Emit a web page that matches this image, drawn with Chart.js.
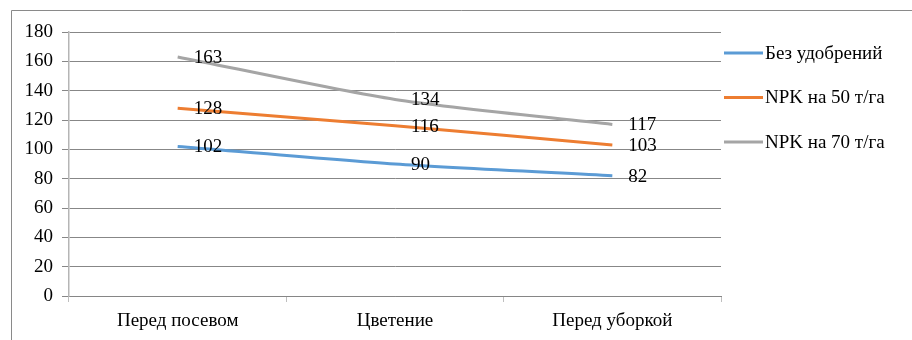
<!DOCTYPE html>
<html>
<head>
<meta charset="utf-8">
<script src="https://cdn.jsdelivr.net/npm/chart.js@4"></script>
<style>
  html, body { margin: 0; padding: 0; background: #ffffff; }
  #wrap { width: 912px; height: 340px; position: relative; }
  #probe { position: absolute; left: -9999px; top: 0; font-family: 'Liberation Serif'; font-size: 19px; }
</style>
</head>
<body>
<div id="probe">Перед посевом 0123456789 NPK т/га</div>
<div id="wrap"><canvas id="c" width="912" height="340"></canvas></div>
<script>
// Стадии развития
const categories = ['Перед посевом', 'Цветение', 'Перед уборкой'];

// Значения по вариантам опыта
const bezUdobreniy = [102, 90, 82];
const npk50 = [128, 116, 103];
const npk70 = [163, 134, 117];

const seriesNames = ['Без удобрений', 'NPK на 50 т/га', 'NPK на 70 т/га'];
const seriesColors = ['#5B9BD5', '#ED7D31', '#A5A5A5'];

// Деления оси Y
const yMin = 0;
const yMax = 180;
const yStep = 20;

const FONT = '"Liberation Serif", serif';

// Рамка вокруг области диаграммы (левая и верхняя стороны)
const frame = {
  id: 'frame',
  beforeDraw(chart) {
    const ctx = chart.ctx;
    ctx.save();
    ctx.fillStyle = '#ffffff';
    ctx.fillRect(0, 0, chart.width, chart.height);
    ctx.strokeStyle = '#8a8a8a';
    ctx.lineWidth = 1;
    ctx.beginPath();
    ctx.moveTo(11.5, chart.height);
    ctx.lineTo(11.5, 10.5);
    ctx.lineTo(chart.width, 10.5);
    ctx.stroke();
    ctx.restore();
  }
};

// Подписи значений справа от точек
const valueLabels = {
  id: 'valueLabels',
  afterDatasetsDraw(chart) {
    const ctx = chart.ctx;
    ctx.save();
    ctx.font = '19px ' + FONT;
    ctx.fillStyle = '#000000';
    ctx.textAlign = 'left';
    ctx.textBaseline = 'middle';
    chart.data.datasets.forEach((ds, i) => {
      const meta = chart.getDatasetMeta(i);
      meta.data.forEach((pt, j) => {
        ctx.fillText(String(ds.data[j]), pt.x + 16, pt.y + 1);
      });
    });
    ctx.restore();
  }
};

// Легенда справа
const sideLegend = {
  id: 'sideLegend',
  afterDraw(chart) {
    const ctx = chart.ctx;
    ctx.save();
    ctx.font = '19px ' + FONT;
    ctx.textAlign = 'left';
    ctx.textBaseline = 'middle';
    chart.data.datasets.forEach((ds, i) => {
      const y = 53 + i * 44.5;
      ctx.strokeStyle = ds.borderColor;
      ctx.lineWidth = 3;
      ctx.beginPath();
      ctx.moveTo(724, y);
      ctx.lineTo(763, y);
      ctx.stroke();
      ctx.fillStyle = '#000000';
      ctx.fillText(ds.label, 765, y + 1);
    });
    ctx.restore();
  }
};

const seriesData = [bezUdobreniy, npk50, npk70];

function draw() {
  new Chart(document.getElementById('c'), {
    type: 'line',
    data: {
      labels: categories,
      datasets: seriesData.map((d, i) => ({
        label: seriesNames[i],
        data: d,
        borderColor: seriesColors[i],
        backgroundColor: seriesColors[i],
        borderWidth: 3,
        pointRadius: 0,
        tension: 0.25,
        fill: false
      }))
    },
    options: {
      responsive: false,
      animation: false,
      layout: { padding: { left: 0, top: 32, right: 191, bottom: 0 } },
      plugins: {
        legend: { display: false },
        tooltip: { enabled: false }
      },
      scales: {
        x: {
          offset: true,
          afterFit(scale) { scale.height = 44; },
          grid: {
            offset: true,
            drawOnChartArea: false,
            drawTicks: true,
            tickLength: 6,
            color: '#bfbfbf'
          },
          border: { display: true, color: '#868686', width: 1 },
          ticks: {
            font: { family: FONT, size: 19 },
            color: '#000000',
            padding: 8,
            maxRotation: 0
          }
        },
        y: {
          min: yMin,
          max: yMax,
          afterFit(scale) { scale.width = 69; },
          grid: {
            color: '#878787',
            lineWidth: 1,
            drawTicks: true,
            tickLength: 7
          },
          border: { display: true, color: '#b5b5b5', width: 1.5 },
          ticks: {
            stepSize: yStep,
            font: { family: FONT, size: 19 },
            color: '#000000',
            padding: 9
          }
        }
      }
    },
    plugins: [frame, valueLabels, sideLegend]
  });
}

if (document.fonts && document.fonts.load) {
  document.fonts.load('19px "Liberation Serif"').then(draw, draw);
} else {
  draw();
}
</script>
</body>
</html>
